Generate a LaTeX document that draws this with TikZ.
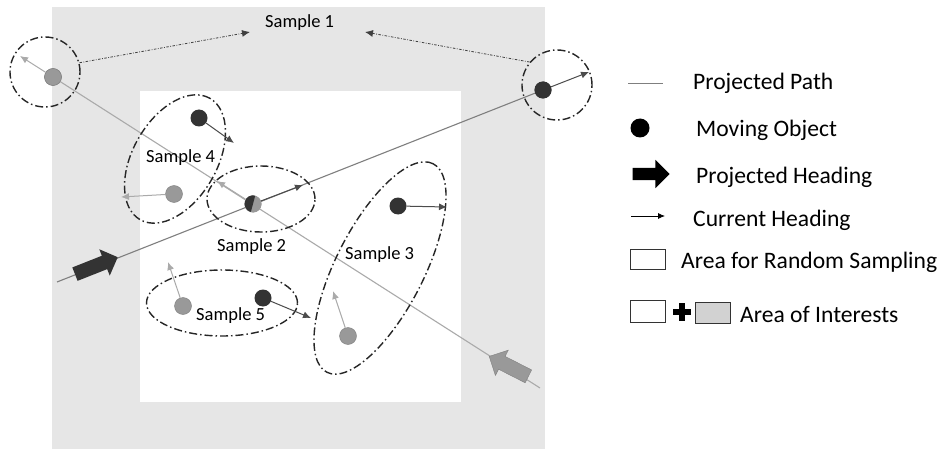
\documentclass[tikz,border=0pt]{standalone}
\usepackage{fontspec}
\setmainfont{Carlito}
\usetikzlibrary{positioning, arrows.meta, shapes.geometric, shapes.arrows}
\definecolor{areagrey}{HTML}{E6E6E6}
\definecolor{objdark}{HTML}{333333}
\definecolor{objgrey}{HTML}{999999}
\definecolor{pathlight}{HTML}{AAAAAA}
\definecolor{pathdark}{HTML}{7F7F7F}
\tikzset{
    x=1pt, y=-1pt, % one unit is one pixel of the sketch
    >={Latex[length=8pt, width=7pt]}, % makes the arrow heads bold
    darkobj/.style={circle, fill=objdark, inner sep=0pt, minimum size=17pt}, % a dark moving object
    greyobj/.style={circle, fill=objgrey, draw=gray, inner sep=0pt, minimum size=17pt}, % a grey moving object
    ring/.style={draw=black!85, line width=1.4pt, dash pattern=on 8pt off 3pt on 1.5pt off 3pt}, % the dash-dot sample rings
    darkhead/.style={->, draw=black!70, line width=1pt}, % current heading, dark
    greyhead/.style={->, draw=pathlight, line width=1pt}, % current heading, grey
    link/.style={->, draw=black!75, line width=0.8pt, dash pattern=on 2.5pt off 1.5pt on 0.8pt off 1.5pt}, % arrows to the sample 1 label
    lbl/.style={font=\fontsize{18.5}{22}\selectfont, inner sep=0pt, anchor=base west}, % sample labels
    legend/.style={font=\fontsize{23.6}{27}\selectfont, inner sep=0pt, anchor=base west}, % legend texts
    blockarrow/.style={single arrow, inner xsep=0pt, inner ysep=7pt, minimum height=46pt, single arrow head extend=7pt}, % projected heading
    legbox/.style={draw=black!80, line width=1pt, minimum width=35pt, inner sep=0pt}, % legend boxes
}

\begin{document}
\begin{tikzpicture}
    \useasboundingbox (0,0) rectangle (944,449);
    % areas
    \fill[areagrey] (52,7) rectangle (545,449);
    \fill[white] (140,91) rectangle (461,402);

    % moving objects
    \node[greyobj] (o1) at (53,77) {};
    \node[darkobj] (o2) at (543,90) {};
    \node[greyobj, draw=none] (o3) at (253,204) {};
    \node[darkobj] (o4) at (199,118) {};
    \node[greyobj] (o5) at (174,194) {};
    \node[darkobj] (o6) at (398,206) {};
    \node[greyobj] (o7) at (348,336) {};
    \node[greyobj] (o8) at (183,306) {};
    \node[darkobj] (o9) at (263,298) {};

    % projected paths
    \coordinate (p1) at (540,388);
    \coordinate (p2) at (57,282);
    \draw[pathlight, line width=1.1pt] (p1) -- (o1.center);
    \draw[pathdark, line width=1.1pt] (p2) -- (o2.center);
    \node[blockarrow, fill=objdark, rotate=21.6] (h1) at (93,267) {};
    \node[blockarrow, fill=objgrey, draw=gray, rotate=153, minimum height=44pt] (h2) at (512,368) {};

    % redraw objects over the paths
    \node[greyobj] at (o1) {};
    \node[darkobj] at (o2) {};
    \fill[objgrey] (o3) circle[radius=8.5pt];
    \fill[objdark] (o3.75) arc[start angle=75, end angle=255, radius=8.5pt] -- cycle;

    % samples
    \node[ring, circle, minimum size=70pt] (r1) at (45,72) {};
    \node[ring, circle, minimum size=70pt] (r2) at (557,85) {};
    \node[ring, ellipse, minimum width=108pt, minimum height=66pt] (s2) at (261,199) {};
    \node[ring, ellipse, minimum width=234pt, minimum height=88pt, rotate=63] (s3) at (380,268) {};
    \node[ring, ellipse, minimum width=140pt, minimum height=84pt, rotate=60] (s4) at (175,159) {};
    \node[ring, ellipse, minimum width=151pt, minimum height=66pt] (s5) at (222,303) {};

    \node[lbl] (l1) at (265,28) {Sample 1};
    \node[lbl] (l2) at (217,251) {Sample 2};
    \node[lbl] (l3) at (345,259) {Sample 3};
    \node[lbl] (l4) at (146,163) {Sample 4};
    \node[lbl] (l5) at (196,320) {Sample 5};

    \coordinate (t1) at (250,32);
    \coordinate (t2) at (365,32);
    \draw[link] (r1.15) -- (t1);
    \draw[link] (r2.140) -- (t2);

    % current headings
    \draw[greyhead] (o1) -- (20,56);
    \draw[darkhead] (o2) -- (589,72);
    \draw[darkhead] (o3) -- (303,185);
    \draw[greyhead] (o3) -- (217,181);
    \draw[darkhead] (o4) -- (234,143);
    \draw[greyhead] (o5) -- (121,197);
    \draw[darkhead] (o6) -- (447,207);
    \draw[greyhead] (o7) -- (333,291);
    \draw[greyhead] (o8) -- (168,262);
    \draw[darkhead] (o9) -- (311,318);

    % legend
    \coordinate (g1a) at (628,83);
    \coordinate (g1b) at (663,83);
    \draw[pathdark, line width=0.8pt] (g1a) -- (g1b);
    \node[legend] (g1) at (693,90) {Projected Path};
    \node[circle, fill=black, inner sep=0pt, minimum size=19pt] (g2dot) at (640,128) {};
    \node[legend] (g2) at (696,137) {Moving Object};
    \node[single arrow, fill=black, inner xsep=0pt, inner ysep=6pt, minimum height=37pt, single arrow head extend=8pt] (g3arr) at (648,174) {};
    \node[legend] (g3) at (696,183) {Projected Heading};
    \coordinate (g4a) at (631,216);
    \coordinate (g4b) at (665,216);
    \draw[-{Latex[length=7pt, width=6pt]}, line width=0.8pt] (g4a) -- (g4b);
    \node[legend] (g4) at (693,226) {Current Heading};
    \node[legbox, minimum height=20pt] (g5box) at (648,259) {};
    \node[legend] (g5) at (681,268) {Area for Random Sampling};
    \node[legbox, minimum height=22pt] (g6box) at (648,311) {};
    \node[inner sep=0pt, minimum size=18pt] (g6plus) at (682,312) {};
    \fill (g6plus.west) ++(0,-3) rectangle ++(18,6);
    \fill (g6plus.north) ++(-3,0) rectangle ++(6,18);
    \node[legbox, fill=gray!35, minimum height=21pt] (g6grey) at (713,313) {};
    \node[legend] (g6) at (740,322) {Area of Interests};
\end{tikzpicture}
\end{document}
